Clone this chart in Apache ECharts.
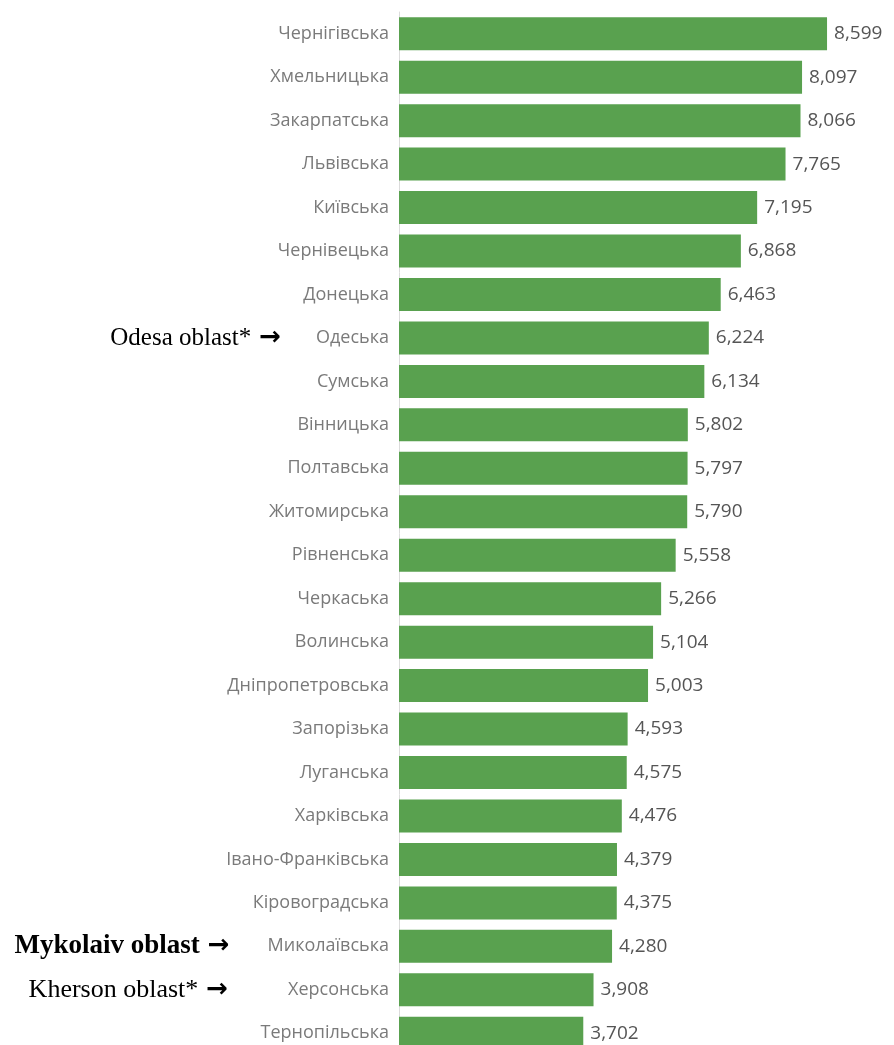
<!DOCTYPE html>
<html>
<head>
<meta charset="utf-8">
<script src="https://cdn.jsdelivr.net/npm/echarts@6/dist/echarts.min.js"></script>
<style>
  html, body { margin: 0; padding: 0; background: #fff; overflow: hidden; }
  #chart { width: 894px; height: 1060px; }
</style>
</head>
<body>
<div id="chart"></div>
<script>
// oblasts, top to bottom
var regions = ['Чернігівська', 'Хмельницька', 'Закарпатська', 'Львівська', 'Київська',
  'Чернівецька', 'Донецька', 'Одеська', 'Сумська', 'Вінницька', 'Полтавська',
  'Житомирська', 'Рівненська', 'Черкаська', 'Волинська', 'Дніпропетровська',
  'Запорізька', 'Луганська', 'Харківська', 'Івано-Франківська', 'Кіровоградська',
  'Миколаївська', 'Херсонська', 'Тернопільська'];
var values = [8599, 8097, 8066, 7765, 7195, 6868, 6463, 6224, 6134, 5802, 5797,
  5790, 5558, 5266, 5104, 5003, 4593, 4575, 4476, 4379, 4375, 4280, 3908, 3702];

// english notes put in front of some rows
var noteRegions = ['Одеська', 'Миколаївська', 'Херсонська'];
var noteTexts = ['Odesa oblast*', 'Mykolaiv oblast', 'Kherson oblast*'];
var noteSizes = [25, 27, 26];
var noteBold = [false, true, false];
var noteGaps = [35, 38, 60];

var chart = echarts.init(document.getElementById('chart'));

var rich = {
  c: { fontFamily: 'Open Sans', fontSize: 18, color: '#7a7a7a' }
};
noteTexts.forEach(function (t, i) {
  rich['n' + i] = {
    fontFamily: 'Liberation Serif', fontSize: noteSizes[i],
    fontWeight: noteBold[i] ? 'bold' : 'normal', color: '#000', padding: [0, 8, 0, 0]
  };
  rich['arr' + i] = {
    fontFamily: 'DejaVu Sans', fontWeight: 'bold', fontSize: 26, color: '#000',
    padding: [0, noteGaps[i], 0, 0]
  };
});

chart.setOption({
  animation: false,
  grid: { left: 399, top: 12, width: 448, height: 1043, containLabel: false },
  xAxis: {
    type: 'value',
    min: 0,
    max: 9000,
    show: false
  },
  yAxis: {
    type: 'category',
    inverse: true,
    data: regions,
    axisTick: { show: false },
    axisLine: { show: true, lineStyle: { color: '#dcdcdc', width: 1 } },
    axisLabel: {
      margin: 10,
      fontFamily: 'Open Sans',
      fontSize: 18,
      color: '#7a7a7a',
      formatter: function (v) {
        var i = noteRegions.indexOf(v);
        if (i < 0) return '{c|' + v + '}';
        return '{n' + i + '|' + noteTexts[i] + '}{arr' + i + '|→}{c|' + v + '}';
      },
      rich: rich
    }
  },
  series: [{
    type: 'bar',
    data: values,
    barCategoryGap: '24%',
    itemStyle: { color: '#59a14f' },
    label: {
      show: true,
      position: 'right',
      distance: 7,
      fontFamily: 'Open Sans',
      fontSize: 19,
      color: '#555',
      formatter: function (p) { return p.value.toLocaleString('en-US'); }
    }
  }]
});
</script>
</body>
</html>
